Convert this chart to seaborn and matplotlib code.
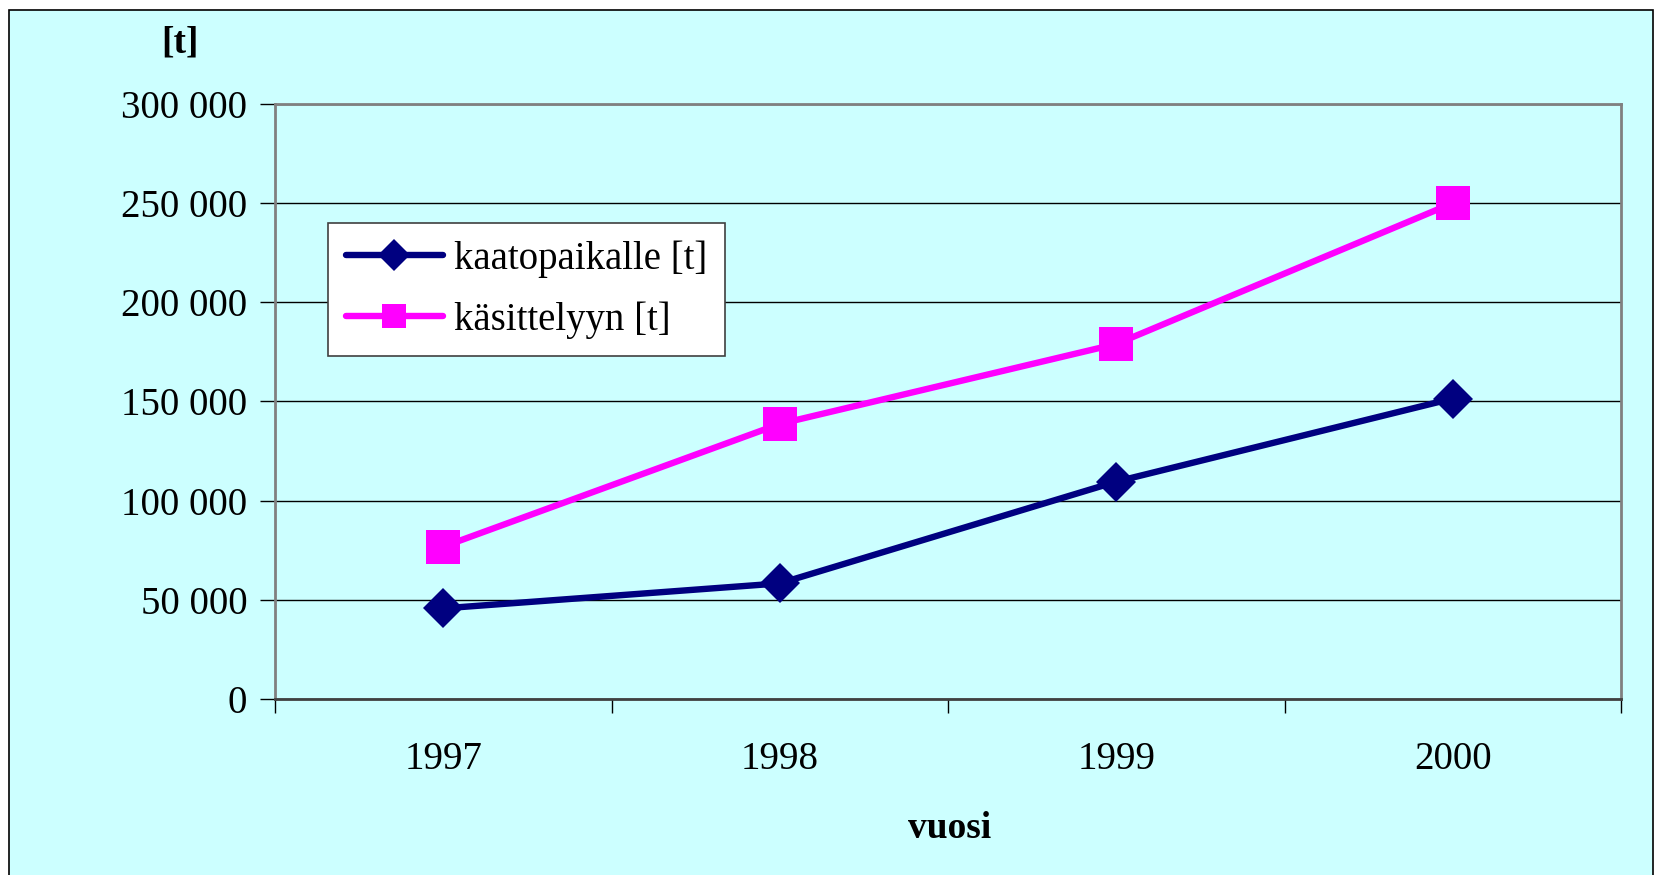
import numpy as np
import pandas as pd
import seaborn as sns
import matplotlib.pyplot as plt
from matplotlib.patches import Rectangle

# data
years = [1997, 1998, 1999, 2000]
kaatopaikalle = [45700, 58300, 109600, 151500]
kasittelyyn = [76800, 138700, 179000, 250000]
series_names = ["kaatopaikalle [t]", "käsittelyyn [t]"]
y_ticks = [0, 50000, 100000, 150000, 200000, 250000, 300000]

df = pd.DataFrame({
    "vuosi": years * 2,
    "t": kaatopaikalle + kasittelyyn,
    "sarja": [series_names[0]] * 4 + [series_names[1]] * 4,
})

sns.set_style("white", {"text.color": "black", "xtick.color": "black", "ytick.color": "black"})
plt.rcParams['font.family'] = ['Liberation Serif', 'DejaVu Serif']

bg = "#CCFFFF"
W, H = 1664, 875
fig = plt.figure(figsize=(W / 100, H / 100), dpi=100, facecolor="white")

# outer chart-area frame
fig.patches.append(Rectangle((9 / W, -0.01), (1653 - 9) / W, 1 - 10 / H + 0.01,
                             transform=fig.transFigure, facecolor=bg,
                             edgecolor="black", linewidth=1.2, zorder=-5))

ax = fig.add_axes([275 / W, 1 - 699 / H, (1621 - 275) / W, (699 - 104) / H])
ax.set_facecolor(bg)

sns.lineplot(data=df, x="vuosi", y="t", hue="sarja", style="sarja",
             palette={series_names[0]: "#000080", series_names[1]: "#FF00FF"},
             markers={series_names[0]: "D", series_names[1]: "s"},
             dashes=False, linewidth=4.6, markeredgewidth=0, ax=ax, zorder=3)

# marker sizes differ per series
for line in ax.lines:
    if line.get_marker() == "D":
        line.set_markersize(20)
    elif line.get_marker() == "s":
        line.set_markersize(25)

ax.set_xlim(1996.5, 2000.5)
ax.set_ylim(0, 300000)
ax.set_yticks(y_ticks)
ax.set_yticklabels([f"{v:,}".replace(",", " ") for v in y_ticks])
ax.yaxis.grid(True, color="black", linewidth=1.0)
ax.set_axisbelow(True)

# category boundaries as major ticks, labels on minor ticks
ax.set_xticks([1996.5, 1997.5, 1998.5, 1999.5, 2000.5])
ax.set_xticklabels([])
ax.set_xticks(years, minor=True)
ax.set_xticklabels([str(y) for y in years], minor=True)
ax.tick_params(axis="x", which="major", direction="out", length=10, width=1, color="black", bottom=True)
ax.tick_params(axis="x", which="minor", length=0, pad=30, labelsize=28, labelcolor="black")
ax.tick_params(axis="y", direction="out", length=11, width=1, color="black", left=True, pad=9,
               labelsize=28, labelcolor="black")

for side in ["left", "bottom", "top", "right"]:
    ax.spines[side].set_visible(True)
    ax.spines[side].set_color("#808080")
    ax.spines[side].set_linewidth(2)
ax.spines["bottom"].set_color("#404040")

ax.set_xlabel("")
ax.set_ylabel("")
fig.text(180 / W, 1 - 43 / H, "[t]", fontsize=27, fontweight="bold", ha="center", va="center", color="black")
fig.text(950 / W, 1 - 829 / H, "vuosi", fontsize=27, fontweight="bold", ha="center", va="center", color="black")

leg = ax.legend(loc="upper left", bbox_to_anchor=((328 - 275) / (1621 - 275), (699 - 223) / (699 - 104)),
                fontsize=28, frameon=True, fancybox=False, handlelength=2.5,
                borderaxespad=0, borderpad=0.45, labelspacing=0.6, handletextpad=0.3)
leg.get_frame().set_edgecolor("#404040")
leg.get_frame().set_linewidth(1.2)
leg.get_frame().set_facecolor("white")
leg.get_frame().set_alpha(1)
for t in leg.get_texts():
    t.set_color("black")
for h in leg.legend_handles:
    h.set_markersize(16 if h.get_marker() == "D" else 17)
    h.set_linewidth(4.6)

fig.savefig("out.png", dpi=100, facecolor="white")
